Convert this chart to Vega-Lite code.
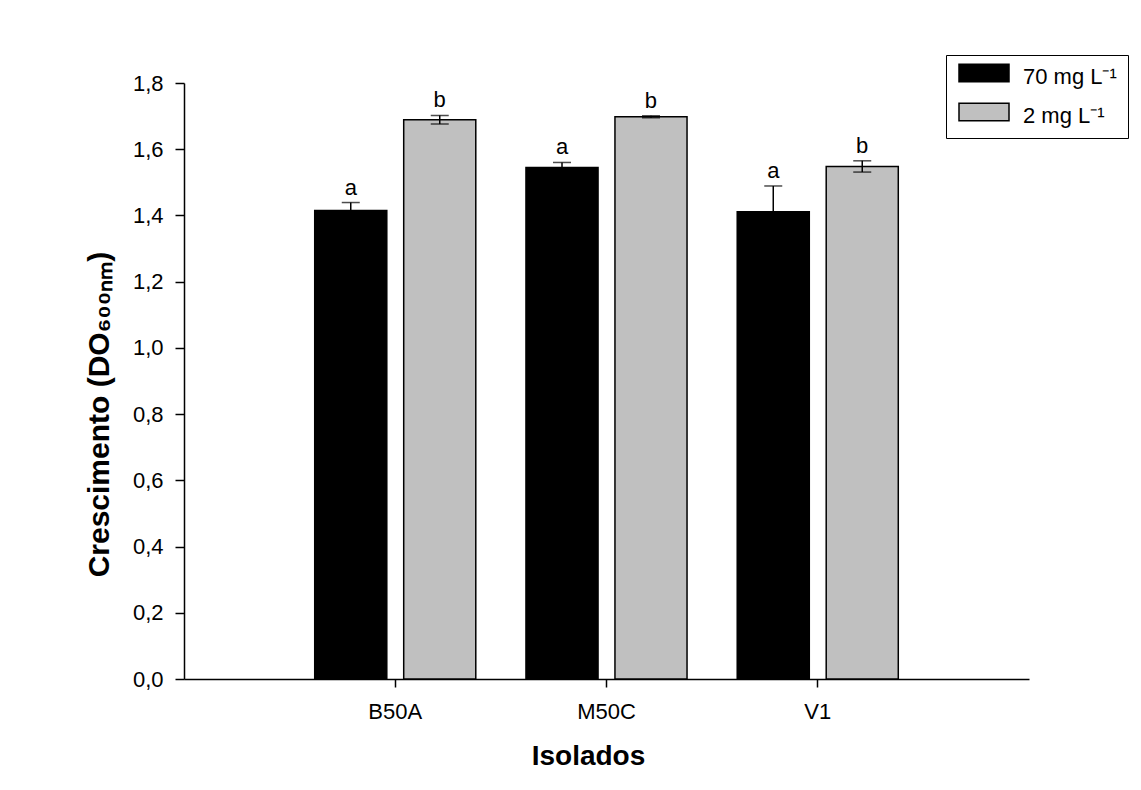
{
  "$schema": "https://vega.github.io/schema/vega-lite/v6.json",
  "autosize": {"type": "none"},
  "width": 845,
  "height": 596,
  "padding": {"left": 184, "top": 83, "right": 112, "bottom": 111},
  "background": "white",
  "config": {
    "font": "Liberation Sans",
    "view": {"stroke": null},
    "axis": {
      "grid": false,
      "domainColor": "black",
      "domainWidth": 1.5,
      "tickColor": "black",
      "tickWidth": 1.5,
      "labelColor": "black",
      "labelFont": "Liberation Sans",
      "labelFontSize": 22,
      "titleFont": "Liberation Sans",
      "titleFontSize": 28,
      "titleFontWeight": "bold",
      "titleColor": "black"
    }
  },
  "data": {
    "values": [
      {"isolado": "B50A", "dose": "70 mg L⁻¹", "value": 1.415, "err": 0.024, "letter": "a"},
      {"isolado": "B50A", "dose": "2 mg L⁻¹", "value": 1.689, "err": 0.013, "letter": "b"},
      {"isolado": "M50C", "dose": "70 mg L⁻¹", "value": 1.545, "err": 0.015, "letter": "a"},
      {"isolado": "M50C", "dose": "2 mg L⁻¹", "value": 1.698, "err": 0.003, "letter": "b"},
      {"isolado": "V1", "dose": "70 mg L⁻¹", "value": 1.411, "err": 0.078, "letter": "a"},
      {"isolado": "V1", "dose": "2 mg L⁻¹", "value": 1.548, "err": 0.017, "letter": "b"}
    ]
  },
  "transform": [
    {"calculate": "datum.value - datum.err", "as": "lo"},
    {"calculate": "datum.value + datum.err", "as": "hi"}
  ],
  "encoding": {
    "x": {
      "field": "isolado",
      "type": "nominal",
      "sort": ["B50A", "M50C", "V1"],
      "scale": {"paddingInner": 0, "paddingOuter": 0.5},
      "axis": {"title": "Isolados", "labelAngle": 0, "tickSize": 8, "labelPadding": 14, "titlePadding": 20, "titleX": 404, "titleAlign": "center"}
    },
    "xOffset": {
      "field": "dose",
      "type": "nominal",
      "sort": ["70 mg L⁻¹", "2 mg L⁻¹"],
      "scale": {"paddingInner": 0.19, "paddingOuter": 0.282}
    }
  },
  "layer": [
    {
      "mark": {"type": "bar", "stroke": "black", "strokeWidth": 1.5},
      "encoding": {
        "y": {
          "field": "value",
          "type": "quantitative",
          "scale": {"domain": [0, 1.8], "nice": false, "zero": true},
          "axis": {
            "title": "Crescimento (DO₆₀₀ₙₘ)",
            "titleFontSize": 30,
            "values": [0, 0.2, 0.4, 0.6, 0.8, 1.0, 1.2, 1.4, 1.6, 1.8],
            "labelExpr": "replace(format(datum.value, '.1f'), '.', ',')",
            "tickSize": 9,
            "labelPadding": 12,
            "titlePadding": 18,
            "titleY": 331,
            "titleAlign": "center"
          }
        },
        "fill": {
          "field": "dose",
          "type": "nominal",
          "sort": ["70 mg L⁻¹", "2 mg L⁻¹"],
          "scale": {"domain": ["70 mg L⁻¹", "2 mg L⁻¹"], "range": ["#000000", "#c0c0c0"]},
          "legend": {
            "title": null,
            "orient": "none",
            "legendX": 762,
            "legendY": -28,
            "strokeColor": "black",
            "fillColor": "white",
            "padding": 11,
            "symbolType": "M-1,-1.424H4.556V0.536H-1Z",
            "symbolSize": 324,
            "symbolStrokeColor": "black",
            "symbolStrokeWidth": 1.5,
            "symbolOpacity": 1,
            "labelFont": "Liberation Sans",
            "labelFontSize": 22,
            "labelColor": "black",
            "labelOffset": 44,
            "rowPadding": 12,
            "labelLimit": 300
          }
        }
      }
    },
    {
      "mark": {"type": "rule", "color": "black", "strokeWidth": 1.5},
      "encoding": {
        "y": {"field": "lo", "type": "quantitative"},
        "y2": {"field": "hi"}
      }
    },
    {
      "mark": {"type": "tick", "color": "black", "size": 18, "thickness": 1.5},
      "encoding": {"y": {"field": "hi", "type": "quantitative"}}
    },
    {
      "mark": {"type": "tick", "color": "black", "size": 18, "thickness": 1.5},
      "encoding": {"y": {"field": "lo", "type": "quantitative"}}
    },
    {
      "mark": {"type": "text", "font": "Liberation Sans", "fontSize": 22, "color": "black", "baseline": "alphabetic", "dy": -8},
      "encoding": {
        "y": {"field": "hi", "type": "quantitative"},
        "text": {"field": "letter"}
      }
    }
  ]
}
